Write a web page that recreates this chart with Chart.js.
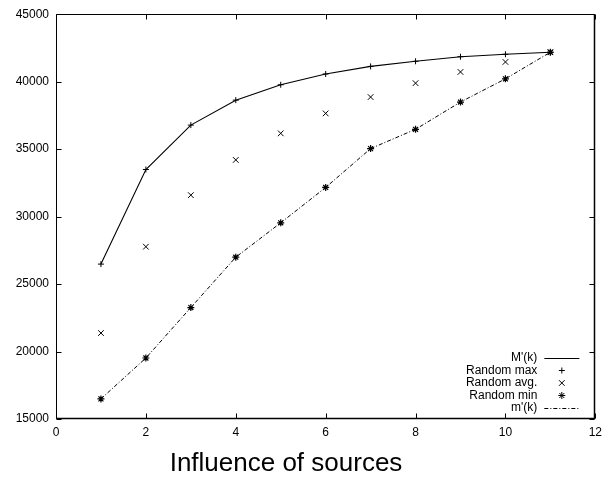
<!DOCTYPE html>
<html><head><meta charset="utf-8">
<script src="https://cdn.jsdelivr.net/npm/chart.js@4/dist/chart.umd.min.js"></script>
<style>html,body{margin:0;padding:0;background:#fff}#wrap{width:608px;height:500px}</style>
</head><body><div id="wrap"><canvas id="c" width="608" height="500"></canvas></div>
<script>
const kValues = [1, 2, 3, 4, 5, 6, 7, 8, 9, 10, 11];
const upperBound = [26480, 33490, 36780, 38630, 39770, 40570, 41130, 41510, 41850, 42030, 42180];
const randomMax = [26480, 33490, 36780, 38630, 39770, 40570, 41130, 41510, 41850, 42030, 42180];
const randomAvg = [21370, 27770, 31590, 34200, 36170, 37650, 38860, 39890, 40720, 41460, 42180];
const randomMin = [16490, 19520, 23260, 26990, 29540, 32160, 35040, 36470, 38490, 40210, 42180];
const lowerBound = [16490, 19520, 23260, 26990, 29540, 32160, 35040, 36470, 38490, 40210, 42180];
const xTicks = [0, 2, 4, 6, 8, 10, 12];
const yTicks = [15000, 20000, 25000, 30000, 35000, 40000, 45000];
const seriesNames = ["M'(k)", "Random max", "Random avg.", "Random min", "m'(k)"];
const chartTitle = "Influence of sources";

const FONT = "'Liberation Sans', Arial, Helvetica, sans-serif";
const pts = arr => arr.map((v, i) => ({x: kValues[i], y: v}));

const datasets = [
  {label: seriesNames[0], data: pts(upperBound), showLine: true, borderColor: '#000', borderWidth: 1.1, pointRadius: 0, fill: false, legendKind: 'line'},
  {label: seriesNames[1], data: pts(randomMax), showLine: false, pointStyle: 'cross', pointRadius: 3, borderColor: '#000', borderWidth: 1, legendKind: 'point'},
  {label: seriesNames[2], data: pts(randomAvg), showLine: false, pointStyle: 'crossRot', pointRadius: 4, borderColor: '#000', borderWidth: 1, legendKind: 'point'},
  {label: seriesNames[3], data: pts(randomMin), showLine: false, pointStyle: 'star', pointRadius: 3.5, borderColor: '#000', borderWidth: 1.2, legendKind: 'point'},
  {label: seriesNames[4], data: pts(lowerBound), showLine: true, borderColor: '#000', borderWidth: 1, borderDash: [4, 2, 1, 2], pointRadius: 0, fill: false, legendKind: 'line'}
];

const framePlugin = {
  id: 'frame',
  afterDraw(chart) {
    const ctx = chart.ctx;
    const a = chart.chartArea;
    const xs = chart.scales.x, ys = chart.scales.y;
    ctx.save();
    ctx.strokeStyle = '#000';
    ctx.lineWidth = 1;
    ctx.setLineDash([]);
    const L = Math.round(a.left) + 0.5, R = Math.round(a.right) - 0.5;
    const T = Math.round(a.top) + 0.5, B = Math.round(a.bottom) - 0.5;
    ctx.beginPath();
    ctx.rect(L, T, R - L, B - T);
    ctx.stroke();
    ctx.lineWidth = 1.5;
    ctx.beginPath();
    ctx.moveTo(R, T); ctx.lineTo(R, B); ctx.lineTo(L, B);
    ctx.stroke();
    ctx.lineWidth = 1;
    const tl = 5;
    ctx.beginPath();
    xs.ticks.forEach(t => {
      const px = Math.round(xs.getPixelForValue(t.value)) + 0.5;
      ctx.moveTo(px, B); ctx.lineTo(px, B - tl);
      ctx.moveTo(px, T); ctx.lineTo(px, T + tl);
    });
    ys.ticks.forEach(t => {
      const py = Math.round(ys.getPixelForValue(t.value)) + 0.5;
      ctx.moveTo(L, py); ctx.lineTo(L + tl, py);
      ctx.moveTo(R, py); ctx.lineTo(R - tl, py);
    });
    ctx.stroke();

    // legend (gnuplot style: right-aligned text, sample on right)
    ctx.font = '12px ' + FONT;
    ctx.fillStyle = '#000';
    ctx.textAlign = 'right';
    ctx.textBaseline = 'middle';
    const textRight = a.right - 58, sx0 = a.right - 51, sx1 = a.right - 16;
    const rowH = 12.5, y0 = a.bottom - 61;
    chart.data.datasets.forEach((ds, i) => {
      const y = y0 + i * rowH;
      ctx.fillText(ds.label, textRight, y);
      if (ds.legendKind === 'line') {
        ctx.save();
        ctx.lineWidth = ds.borderWidth;
        ctx.strokeStyle = ds.borderColor;
        ctx.setLineDash(ds.borderDash || []);
        ctx.beginPath();
        ctx.moveTo(sx0, Math.round(y) + 0.5);
        ctx.lineTo(sx1, Math.round(y) + 0.5);
        ctx.stroke();
        ctx.restore();
      } else {
        ctx.save();
        ctx.strokeStyle = ds.borderColor;
        ctx.fillStyle = ds.borderColor;
        Chart.helpers.drawPoint(ctx, {pointStyle: ds.pointStyle, radius: ds.pointRadius, borderWidth: ds.borderWidth, rotation: 0}, (sx0 + sx1) / 2, y);
        ctx.restore();
      }
    });

    // title below the axis
    ctx.font = '26px ' + FONT;
    ctx.textAlign = 'center';
    ctx.textBaseline = 'alphabetic';
    ctx.fillText(chartTitle, 286, 471);
    ctx.restore();
  }
};

new Chart(document.getElementById('c'), {
  type: 'scatter',
  data: {datasets},
  options: {
    responsive: false,
    animation: false,
    devicePixelRatio: 1,
    layout: {padding: {top: 13, right: 7, left: 0, bottom: 0}},
    plugins: {legend: {display: false}, title: {display: false}, tooltip: {enabled: false}},
    scales: {
      x: {
        type: 'linear', min: xTicks[0], max: xTicks[xTicks.length - 1],
        afterBuildTicks: s => { s.ticks = xTicks.map(v => ({value: v})); },
        afterFit: s => { s.height = 81; },
        grid: {display: false, drawTicks: false},
        border: {display: false},
        ticks: {color: '#000', font: {family: FONT, size: 12}, padding: 6, maxRotation: 0, autoSkip: false}
      },
      y: {
        type: 'linear', min: yTicks[0], max: yTicks[yTicks.length - 1],
        afterBuildTicks: s => { s.ticks = yTicks.map(v => ({value: v})); },
        afterFit: s => { s.width = 56; },
        grid: {display: false, drawTicks: false},
        border: {display: false},
        ticks: {color: '#000', font: {family: FONT, size: 12}, padding: 7, autoSkip: false, callback: v => String(v)}
      }
    }
  },
  plugins: [framePlugin]
});
</script></body></html>
